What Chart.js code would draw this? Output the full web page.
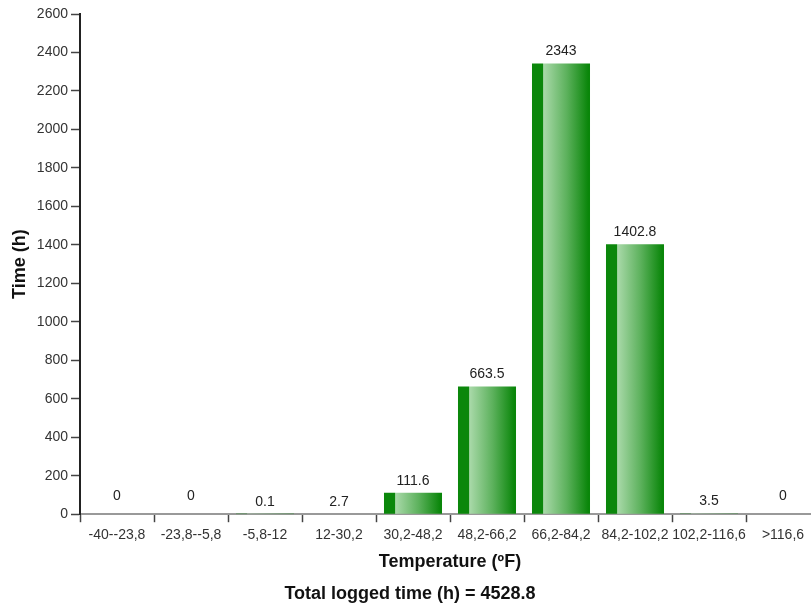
<!DOCTYPE html>
<html lang="en">
<head>
    <meta charset="UTF-8">
    <title>Temperature histogram</title>
    <script src="https://cdn.jsdelivr.net/npm/chart.js"></script>
    <style>
        html, body { margin: 0; padding: 0; overflow: hidden; background: #fff; }
    </style>
</head>
<body>
    <canvas id="tempChart" width="830" height="607"></canvas>

    <script>
        // Chart data
        const categories = ['-40--23,8', '-23,8--5,8', '-5,8-12', '12-30,2', '30,2-48,2',
                            '48,2-66,2', '66,2-84,2', '84,2-102,2', '102,2-116,6', '>116,6'];
        const hours = [0, 0, 0.1, 2.7, 111.6, 663.5, 2343, 1402.8, 3.5, 0];
        const hourLabels = ['0', '0', '0.1', '2.7', '111.6', '663.5', '2343', '1402.8', '3.5', '0'];
        const totalHours = '4528.8';

        const FONT = '"Liberation Sans", Arial, sans-serif';
        const BAR_PCT = 0.784;

        // each bar gets its own left-to-right gradient, once the bars are laid out
        const barShading = {
            id: 'barShading',
            beforeDatasetsDraw(chart) {
                const ctx = chart.ctx;
                chart.getDatasetMeta(0).data.forEach(bar => {
                    const half = bar.width / 2;
                    if (!isFinite(bar.x) || !isFinite(half)) return;
                    const g = ctx.createLinearGradient(bar.x - half, 0, bar.x + half, 0);
                    g.addColorStop(0, '#0b870b');
                    g.addColorStop(0.185, '#0b870b');
                    g.addColorStop(0.2, '#a9d9a9');
                    g.addColorStop(0.6, '#5cb15c');
                    g.addColorStop(0.97, '#0a860a');
                    g.addColorStop(1, '#0a860a');
                    bar.options = Object.assign({}, bar.options, { backgroundColor: g });
                });
            }
        };

        // value above every bar
        const valueLabels = {
            id: 'valueLabels',
            afterDatasetsDraw(chart) {
                const ctx = chart.ctx;
                const meta = chart.getDatasetMeta(0);
                ctx.save();
                ctx.font = '14px ' + FONT;
                ctx.fillStyle = '#222';
                ctx.textAlign = 'center';
                ctx.textBaseline = 'middle';
                meta.data.forEach((bar, i) => {
                    const off = hours[i] === 0 ? 18 : 12;
                    ctx.fillText(hourLabels[i], bar.x, bar.y - off);
                });
                ctx.restore();
            }
        };

        const ctx = document.getElementById('tempChart').getContext('2d');
        new Chart(ctx, {
            type: 'bar',
            data: {
                labels: categories,
                datasets: [{
                    data: hours,
                    backgroundColor: '#0b870b',
                    borderWidth: 0,
                    barPercentage: BAR_PCT,
                    categoryPercentage: 1
                }]
            },
            options: {
                responsive: false,
                animation: false,
                devicePixelRatio: 1,
                layout: { padding: { top: 14, right: 10, left: 0, bottom: 0 } },
                plugins: {
                    legend: { display: false },
                    tooltip: { enabled: false },
                    title: {
                        display: true,
                        position: 'bottom',
                        text: 'Total logged time (h) = ' + totalHours,
                        color: '#111',
                        font: { family: FONT, size: 18, weight: 'bold' },
                        padding: { top: 0, bottom: 2 }
                    }
                },
                scales: {
                    x: {
                        afterFit(scale) { scale.height = 69.2; },
                        border: { color: '#999', width: 2 },
                        grid: {
                            drawOnChartArea: false,
                            offset: true,
                            tickLength: 8,
                            tickColor: '#444',
                            tickWidth: 1.5
                        },
                        ticks: {
                            color: '#333',
                            padding: 5,
                            maxRotation: 0,
                            autoSkip: false,
                            font: { family: FONT, size: 14 }
                        },
                        title: {
                            display: true,
                            text: 'Temperature (ºF)',
                            color: '#111',
                            font: { family: FONT, size: 18, weight: 'bold' },
                            padding: { top: 0, bottom: 10.6 }
                        }
                    },
                    y: {
                        min: 0,
                        max: 2600,
                        afterFit(scale) { scale.width = 80; },
                        border: { color: '#222', width: 2 },
                        grid: {
                            drawOnChartArea: false,
                            tickLength: 9,
                            tickColor: '#444',
                            tickWidth: 1.5
                        },
                        ticks: {
                            stepSize: 200,
                            color: '#333',
                            padding: 3,
                            font: { family: FONT, size: 14 },
                            callback: value => String(value)
                        },
                        title: {
                            display: true,
                            text: 'Time (h)',
                            color: '#111',
                            font: { family: FONT, size: 18, weight: 'bold' },
                            padding: { top: 9.2, bottom: 0 }
                        }
                    }
                }
            },
            plugins: [barShading, valueLabels]
        });
    </script>
</body>
</html>
